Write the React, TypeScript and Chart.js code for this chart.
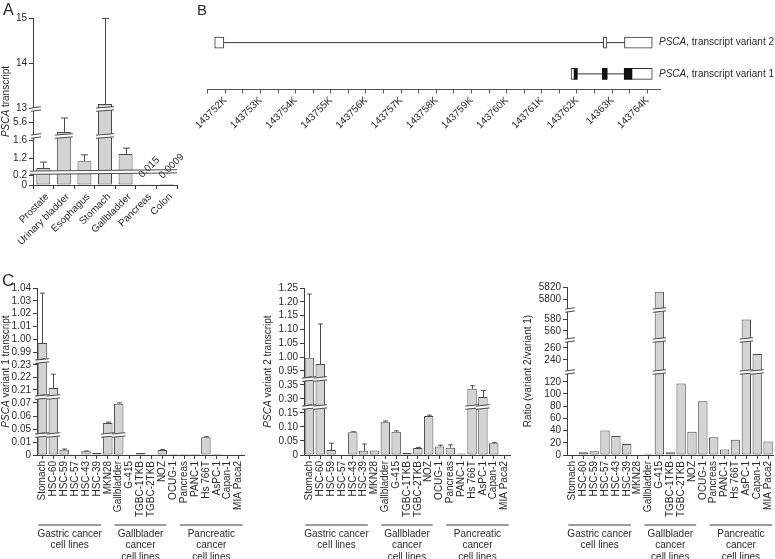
import React, { useEffect, useRef } from 'react';
import { Chart, registerables } from 'chart.js';
Chart.register(...registerables);

const FONT = "'Liberation Sans', Arial, Helvetica, sans-serif";
const INK = '#2a2a2a';
const AXIS = '#3c3c3c';
const BAR_FILL = '#d3d3d3';
const BAR_EDGE = '#4a4a4a';
Chart.defaults.font.family = FONT;
Chart.defaults.color = INK;

// ---------- Panel A data ----------
const tissues = ['Prostate', 'Urinary bladder', 'Esophagus', 'Stomach', 'Gallbladder', 'Pancreas', 'Colon'];
const tissueValues = [0.98, 5.39, 1.13, 13.09, 1.29, 0.015, 0.0009];
const tissueErrors = [0.13, 0.31, 0.14, 1.9, 0.13, 0.004, 0];
const tissueNotes = ['', '', '', '', '', '0.015', '0.0009'];
const tissueTicks = [0, 0.2, 1.2, 1.6, 5.6, 13, 14, 15];
const tissueTickLabels = ['0', '0.2', '1.2', '1.6', '5.6', '13', '14', '15'];

// ---------- Panel B data ----------
const genomeMajorTicks = [143752, 143753, 143754, 143755, 143756, 143757, 143758, 143759, 143760, 143761, 143762, 143763, 143764];
const genomeTickLabels = ['143752K', '143753K', '143754K', '143755K', '143756K', '143757K', '143758K', '143759K', '143760K', '143761K', '143762K', '14363K', '143764K'];
const transcriptRows = ['variant 2', 'variant 1'];
const transcriptGene = ['PSCA', 'PSCA'];
const transcriptSuffix = [', transcript variant 2', ', transcript variant 1'];
const variant2Exons = [[143751.70, 143751.96], [143762.75, 143762.85], [143763.35, 143764.14]];
const variant1Exons = [[143761.83, 143762.01], [143762.72, 143762.86], [143763.34, 143764.14]];
const variant1Coding = [[143761.91, 143762.01], [143762.72, 143762.86], [143763.34, 143763.57]];

// ---------- Panel C data ----------
const cellLines = ['Stomach', 'HSC-60', 'HSC-59', 'HSC-57', 'HSC-43', 'HSC-39', 'MKN28', 'Gallbladder', 'G-415', 'TGBC-1TKB', 'TGBC-2TKB', 'NOZ', 'OCUG-1', 'Pancreas', 'PANC-1', 'Hs 766T', 'AsPC-1', 'Capan-1', 'MIA Paca2'];
const variant1Values = [0.997, 0.2115, 0.0040, 0.0002, 0.0028, 0.0015, 0.0547, 0.0695, 0.0001, 0.0015, 0.0001, 0.0038, 0.0008, 0.0008, 0.0007, 0.0137, 0.0008, 0.0005, 0.0001];
const variant1Errors = [0.039, 0.011, 0.0006, 0, 0.0003, 0.0002, 0.0006, 0.0006, 0, 0.0002, 0, 0.0003, 0.0001, 0.0001, 0.0001, 0.0004, 0.0001, 0.0001, 0];
const variant1Ticks = [0, 0.01, 0.05, 0.06, 0.07, 0.21, 0.22, 0.23, 0.99, 1.0, 1.01, 1.02, 1.03, 1.04];
const variant1TickLabels = ['0', '0.01', '0.05', '0.06', '0.07', '0.21', '0.22', '0.23', '0.99', '1.00', '1.01', '1.02', '1.03', '1.04'];

const variant2Values = [0.998, 0.975, 0.018, 0.003, 0.081, 0.015, 0.016, 0.117, 0.083, 0.007, 0.025, 0.139, 0.030, 0.026, 0.005, 0.336, 0.307, 0.042, 0.0005];
const variant2Errors = [0.23, 0.145, 0.024, 0.001, 0.002, 0.024, 0.001, 0.004, 0.003, 0.001, 0.002, 0.003, 0.005, 0.010, 0.001, 0.011, 0.023, 0.003, 0];
const variant2Ticks = [0, 0.05, 0.10, 0.15, 0.30, 0.35, 0.95, 1.00, 1.05, 1.10, 1.15, 1.20, 1.25];
const variant2TickLabels = ['0', '0.05', '0.10', '0.15', '0.30', '0.35', '0.95', '1.00', '1.05', '1.10', '1.15', '1.20', '1.25'];

const ratioValues = [1, 4.5, 6, 40, 31, 18, 0.5, 2, 5812, 4.5, 117, 38, 88, 29, 9, 25, 579, 250, 22];
const ratioTicks = [0, 20, 40, 60, 80, 100, 120, 240, 260, 560, 580, 5800, 5820];
const ratioTickLabels = ['0', '20', '40', '60', '80', '100', '120', '240', '260', '560', '580', '5800', '5820'];

const groupNames = [['Gastric cancer', 'cell lines'], ['Gallblader', 'cancer', 'cell lines'], ['Pancreatic', 'cancer', 'cell lines']];
const groupFirst = [0, 7, 13];
const groupLast = [5, 11, 18];

// ---------- axis segment layout (value range + pixel height) ----------
type Seg = { lo: number; hi: number; h: number };
const segA: Seg[] = [{ lo: 0, hi: 0.26, h: 13 }, { lo: 0.89, hi: 1.69, h: 36 }, { lo: 5.3, hi: 5.9, h: 27 }, { lo: 12.98, hi: 15, h: 91 }];
const segC1: Seg[] = [{ lo: 0, hi: 0.0154, h: 20 }, { lo: 0.0454, hi: 0.0746, h: 38 }, { lo: 0.2044, hi: 0.233, h: 36 }, { lo: 0.983, hi: 1.04, h: 73 }];
const segC2: Seg[] = [{ lo: 0, hi: 0.171, h: 48 }, { lo: 0.271, hi: 0.371, h: 28 }, { lo: 0.921, hi: 1.25, h: 91 }];
const segC3: Seg[] = [{ lo: 0, hi: 136, h: 83 }, { lo: 220, hi: 273, h: 32 }, { lo: 545, hi: 595, h: 30 }, { lo: 5782, hi: 5820, h: 23 }];

function makeMap(segs: Seg[]) {
  const starts: number[] = [];
  let acc = 0;
  segs.forEach((s) => { starts.push(acc); acc += s.h; });
  const total = acc;
  const f = (v: number) => {
    for (let i = 0; i < segs.length; i++) {
      const s = segs[i];
      if (v < s.lo) return starts[i];
      if (v <= s.hi) return starts[i] + ((v - s.lo) / (s.hi - s.lo)) * s.h;
    }
    return total;
  };
  return { f, total, bounds: starts.slice(1) };
}

function drawBreak(ctx: CanvasRenderingContext2D, x0: number, x1: number, y: number) {
  const g = 1.6, t = 0.7;
  ctx.save();
  ctx.fillStyle = '#ffffff';
  ctx.beginPath();
  ctx.moveTo(x0, y - g + t); ctx.lineTo(x1, y - g - t); ctx.lineTo(x1, y + g - t); ctx.lineTo(x0, y + g + t);
  ctx.closePath(); ctx.fill();
  ctx.strokeStyle = BAR_EDGE; ctx.lineWidth = 1;
  ctx.beginPath();
  ctx.moveTo(x0, y - g + t); ctx.lineTo(x1, y - g - t);
  ctx.moveTo(x0, y + g + t); ctx.lineTo(x1, y + g - t);
  ctx.stroke();
  ctx.restore();
}

function drawMixed(ctx: CanvasRenderingContext2D, parts: [string, boolean][], x: number, y: number, rot: number, align: 'center' | 'left') {
  ctx.save();
  ctx.translate(x, y);
  ctx.rotate(rot);
  ctx.fillStyle = INK;
  ctx.textBaseline = 'middle';
  ctx.textAlign = 'left';
  let total = 0;
  parts.forEach(([t, it]) => { ctx.font = `${it ? 'italic ' : ''}10px ${FONT}`; total += ctx.measureText(t).width; });
  let cx = align === 'center' ? -total / 2 : 0;
  parts.forEach(([t, it]) => { ctx.font = `${it ? 'italic ' : ''}10px ${FONT}`; ctx.fillText(t, cx, 0); cx += ctx.measureText(t).width; });
  ctx.restore();
}

type BrokenOpts = {
  labels: string[]; values: number[]; errors?: number[]; notes?: string[];
  segs: Seg[]; ticks: number[]; tickLabels: string[];
  yWidth: number; xHeight: number; padTop: number; padRight: number;
  barPct: number; gridOffset: boolean; rotation: number; labelOffset: number;
  fullBreaks?: number[]; title: [string, boolean][]; titleX: number; grouped?: boolean;
};

function brokenConfig(p: BrokenOpts): any {
  const m = makeMap(p.segs);
  const data = p.values.map(m.f);
  const plugin = {
    id: 'broken',
    afterDatasetsDraw(chart: any) {
      const ctx = chart.ctx; const ys = chart.scales.y; const area = chart.chartArea;
      const meta = chart.getDatasetMeta(0);
      if (p.errors) {
        ctx.save(); ctx.strokeStyle = BAR_EDGE; ctx.lineWidth = 1;
        meta.data.forEach((el: any, i: number) => {
          const e = p.errors![i]; if (!e) return;
          const top = ys.getPixelForValue(m.f(p.values[i] + e));
          if (top >= el.y - 0.3) return;
          const x = Math.round(el.x) + 0.5; const cw = el.width * 0.25;
          ctx.beginPath(); ctx.moveTo(x, el.y); ctx.lineTo(x, top);
          ctx.moveTo(x - cw, top); ctx.lineTo(x + cw, top); ctx.stroke();
        });
        ctx.restore();
      }
      m.bounds.forEach((b, bi) => {
        const y = ys.getPixelForValue(b);
        if (p.fullBreaks && p.fullBreaks.includes(bi)) { drawBreak(ctx, area.left - 3, area.right, y); return; }
        drawBreak(ctx, area.left - 2, area.left + 8, y);
        meta.data.forEach((el: any, i: number) => {
          if (data[i] > b + 0.5) drawBreak(ctx, el.x - el.width / 2 - 2, el.x + el.width / 2 + 2, y);
        });
      });
    },
    afterDraw(chart: any) {
      const ctx = chart.ctx; const area = chart.chartArea; const xs = chart.scales.x;
      const meta = chart.getDatasetMeta(0);
      drawMixed(ctx, p.title, p.titleX, (area.top + area.bottom) / 2, -Math.PI / 2, 'center');
      if (p.notes) {
        ctx.save(); ctx.fillStyle = INK; ctx.font = `10px ${FONT}`; ctx.textAlign = 'left'; ctx.textBaseline = 'alphabetic';
        p.notes.forEach((n, i) => {
          if (!n) return; const el = meta.data[i];
          ctx.save(); ctx.translate(el.x - 4, el.y - 6); ctx.rotate(-Math.PI / 4); ctx.fillText(n, 0, 0); ctx.restore();
        });
        ctx.restore();
      }
      if (p.grouped) {
        const cw = (area.right - area.left) / p.labels.length;
        groupNames.forEach((lines, gi) => {
          const x0 = xs.getPixelForValue(groupFirst[gi]) - 0.38 * cw;
          const x1 = xs.getPixelForValue(groupLast[gi]) + 0.38 * cw;
          const y = area.bottom + 70;
          ctx.save();
          ctx.strokeStyle = '#7a7a7a'; ctx.lineWidth = 1.5;
          ctx.beginPath(); ctx.moveTo(x0, y); ctx.lineTo(x1, y); ctx.stroke();
          ctx.fillStyle = INK; ctx.font = `10px ${FONT}`; ctx.textAlign = 'center'; ctx.textBaseline = 'middle';
          lines.forEach((t, li) => ctx.fillText(t, (x0 + x1) / 2, y + 9 + li * 11.5));
          ctx.restore();
        });
      }
    },
  };
  return {
    type: 'bar',
    data: {
      labels: p.labels,
      datasets: [{
        data, backgroundColor: BAR_FILL, borderColor: BAR_EDGE, borderWidth: 1, borderSkipped: false,
        barPercentage: p.barPct, categoryPercentage: 1,
      }],
    },
    options: {
      animation: false, responsive: false, maintainAspectRatio: false,
      layout: { padding: { top: p.padTop, right: p.padRight, left: 0, bottom: 0 } },
      plugins: { legend: { display: false }, tooltip: { enabled: false } },
      scales: {
        x: {
          type: 'category', offset: true,
          grid: { display: true, drawOnChartArea: false, drawTicks: true, tickLength: 4, offset: p.gridOffset, color: AXIS },
          border: { display: true, color: AXIS, width: 1 },
          ticks: { autoSkip: false, maxRotation: p.rotation, minRotation: p.rotation, padding: 2, labelOffset: p.labelOffset, color: INK, font: { size: 10, family: FONT } },
          afterFit: (s: any) => { s.height = p.xHeight; s.paddingLeft = 0; s.paddingRight = 0; },
        },
        y: {
          type: 'linear', min: 0, max: m.total,
          afterBuildTicks: (s: any) => { s.ticks = p.ticks.map((v) => ({ value: m.f(v) })); },
          grid: { display: true, drawOnChartArea: false, drawTicks: true, tickLength: 4, color: AXIS },
          border: { display: true, color: AXIS, width: 1 },
          ticks: { autoSkip: false, padding: 2, color: INK, font: { size: 10, family: FONT }, callback: (_v: any, i: number) => p.tickLabels[i] },
          afterFit: (s: any) => { s.width = p.yWidth; s.paddingTop = 0; s.paddingBottom = 0; },
        },
      },
    },
    plugins: [plugin],
  };
}

function genomeConfig(): any {
  const row = (exons: number[][], r: string) => exons.map((e) => ({ x: e, y: r }));
  const intron = (exons: number[][], r: string) => ({
    type: 'line', data: [{ x: exons[0][0], y: r }, { x: exons[exons.length - 1][1], y: r }],
    borderColor: '#333', borderWidth: 1, pointRadius: 0, order: 3,
  });
  const plugin = {
    id: 'rowLabels',
    afterDraw(chart: any) {
      const ys = chart.scales.y; const area = chart.chartArea;
      transcriptRows.forEach((_r, i) => {
        drawMixed(chart.ctx, [[transcriptGene[i], true], [transcriptSuffix[i], false]], area.right - 1, ys.getPixelForValue(i), 0, 'left');
      });
    },
  };
  const minorTicks = genomeMajorTicks.map((v) => v - 0.5);
  return {
    type: 'bar',
    data: {
      datasets: [
        intron(variant2Exons, transcriptRows[0]),
        intron(variant1Exons, transcriptRows[1]),
        { type: 'bar', data: [...row(variant2Exons, transcriptRows[0]), ...row(variant1Exons, transcriptRows[1])], backgroundColor: '#ffffff', borderColor: '#333', borderWidth: 1, borderSkipped: false, barThickness: 11, grouped: false, order: 2 },
        { type: 'bar', data: row(variant1Coding, transcriptRows[1]), backgroundColor: '#111', borderColor: '#111', borderWidth: 1, borderSkipped: false, barThickness: 11, grouped: false, order: 1 },
      ],
    },
    options: {
      indexAxis: 'y', animation: false, responsive: false, maintainAspectRatio: false,
      layout: { padding: { top: 27, right: 115, left: 17.7, bottom: 0 } },
      plugins: { legend: { display: false }, tooltip: { enabled: false } },
      scales: {
        x: {
          type: 'linear', min: 143751.5, max: 143764.36,
          afterBuildTicks: (s: any) => { s.ticks = [...minorTicks, ...genomeMajorTicks].sort((a, b) => a - b).map((v) => ({ value: v })); },
          grid: { display: true, drawOnChartArea: false, drawTicks: true, tickLength: 4, color: '#555' },
          border: { display: true, color: '#555', width: 1 },
          ticks: {
            autoSkip: false, maxRotation: 45, minRotation: 45, padding: 1, color: INK, font: { size: 10, family: FONT },
            callback: (v: any) => { const k = genomeMajorTicks.indexOf(v); return k >= 0 ? genomeTickLabels[k] : ''; },
          },
          afterFit: (s: any) => { s.height = 60.5; s.paddingLeft = 0; s.paddingRight = 0; },
        },
        y: { type: 'category', labels: transcriptRows, offset: true, display: false },
      },
    },
    plugins: [plugin],
  };
}

function ChartBox({ left, top, width, height, build }: { left: number; top: number; width: number; height: number; build: () => any }) {
  const ref = useRef<HTMLCanvasElement>(null);
  useEffect(() => {
    const chart = new Chart(ref.current as HTMLCanvasElement, build());
    return () => chart.destroy();
  }, []);
  return <canvas ref={ref} width={width} height={height} style={{ position: 'absolute', left, top, width, height, display: 'block' }} />;
}

const letter = (t: string, left: number, top: number, size: number) => (
  <div style={{ position: 'absolute', left, top, fontFamily: FONT, fontSize: size, lineHeight: 1, color: INK }}>{t}</div>
);

export default function App() {
  return (
    <div style={{ position: 'fixed', left: 0, top: 0, width: 775, height: 559, background: '#ffffff', overflow: 'hidden' }}>
      <ChartBox left={0} top={0} width={200} height={290} build={() => brokenConfig({
        labels: tissues, values: tissueValues, errors: tissueErrors, notes: tissueNotes,
        segs: segA, ticks: tissueTicks, tickLabels: tissueTickLabels,
        yWidth: 33, xHeight: 105, padTop: 18, padRight: 23, barPct: 0.68, gridOffset: true, rotation: 45, labelOffset: 4,
        fullBreaks: [0], title: [['PSCA', true], [' transcript', false]], titleX: 6,
      })} />
      <ChartBox left={190} top={0} width={585} height={150} build={genomeConfig} />
      <ChartBox left={0} top={280} width={260} height={279} build={() => brokenConfig({
        labels: cellLines, values: variant1Values, errors: variant1Errors,
        segs: segC1, ticks: variant1Ticks, tickLabels: variant1TickLabels,
        yWidth: 37, xHeight: 104, padTop: 8, padRight: 16, barPct: 0.87, gridOffset: false, rotation: 90, labelOffset: 0,
        title: [['PSCA', true], [' variant 1 transcript', false]], titleX: 6, grouped: true,
      })} />
      <ChartBox left={260} top={280} width={260} height={279} build={() => brokenConfig({
        labels: cellLines, values: variant2Values, errors: variant2Errors,
        segs: segC2, ticks: variant2Ticks, tickLabels: variant2TickLabels,
        yWidth: 44, xHeight: 104, padTop: 8, padRight: 10, barPct: 0.87, gridOffset: false, rotation: 90, labelOffset: 0,
        title: [['PSCA', true], [' variant 2 transcript', false]], titleX: 8, grouped: true,
      })} />
      <ChartBox left={515} top={280} width={260} height={279} build={() => brokenConfig({
        labels: cellLines, values: ratioValues,
        segs: segC3, ticks: ratioTicks, tickLabels: ratioTickLabels,
        yWidth: 52, xHeight: 104, padTop: 7, padRight: 1.5, barPct: 0.86, gridOffset: false, rotation: 90, labelOffset: 0,
        title: [['Ratio (variant 2/variant 1)', false]], titleX: 13, grouped: true,
      })} />
      {letter('A', 3, 2, 16)}
      {letter('B', 197, 2, 15)}
      {letter('C', 2, 272, 17)}
    </div>
  );
}
